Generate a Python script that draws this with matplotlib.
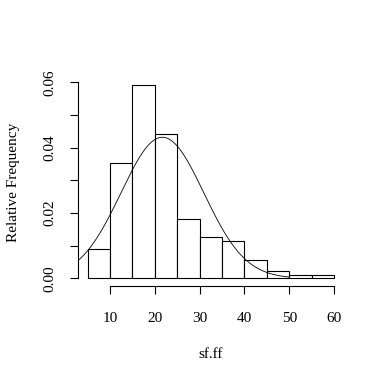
import numpy as np
import matplotlib
matplotlib.use("Agg")
import matplotlib.pyplot as plt

# histogram of sf.ff, bins of width 5 from 5 to 60
bin_edges = [5, 10, 15, 20, 25, 30, 35, 40, 45, 50, 55, 60]
counts = [8, 31, 52, 39, 16, 11, 10, 5, 2, 1, 1]
n_obs = 176

# fitted normal curve, drawn from the left plot edge to about 50
curve_mean = 21.7
curve_sd = 9.24
curve_from, curve_to = 2.8, 50.0

xticks = [10, 20, 30, 40, 50, 60]
yticks = [0.00, 0.01, 0.02, 0.03, 0.04, 0.05, 0.06]
ytick_labels = ["0.00", "", "0.02", "", "0.04", "", "0.06"]

plt.rcParams["font.family"] = ["Liberation Serif", "DejaVu Serif"]
plt.rcParams["font.size"] = 11

fig = plt.figure(figsize=(3.84, 3.83), dpi=100)
ax = fig.add_axes([0.2023, 0.253, 0.6932, 0.5475])

edges = np.array(bin_edges, dtype=float)
width = np.diff(edges)
dens = np.array(counts) / (n_obs * width)
ax.bar(edges[:-1], dens, width=width, align="edge", facecolor="white",
       edgecolor="black", linewidth=0.8)

xs = np.linspace(curve_from, curve_to, 300)
ys = np.exp(-(xs - curve_mean) ** 2 / (2 * curve_sd ** 2)) / (curve_sd * np.sqrt(2 * np.pi))
ax.plot(xs, ys, color="black", linewidth=0.6)

ax.set_xlim(2.8, 62.2)
ax.set_ylim(-0.00238, 0.0618)

for s in ["top", "right"]:
    ax.spines[s].set_visible(False)
ax.spines["bottom"].set_bounds(10, 60)
ax.spines["left"].set_bounds(0, 0.06)
ax.spines["bottom"].set_linewidth(0.8)
ax.spines["left"].set_linewidth(0.8)

ax.set_xticks(xticks)
ax.set_yticks(yticks)
ax.set_yticklabels(ytick_labels, rotation=90, va="center")
ax.tick_params(axis="both", length=6, width=0.8, direction="out")
ax.tick_params(axis="x", pad=13)
ax.tick_params(axis="y", pad=9)

fig.text((77.7 + 343.9) / 2 / 384, 1 - 355 / 383, "sf.ff", ha="center", va="center")
fig.text(14 / 384, 1 - 182 / 383, "Relative Frequency", rotation=90,
         ha="center", va="center")

fig.savefig("out.png", dpi=100)
